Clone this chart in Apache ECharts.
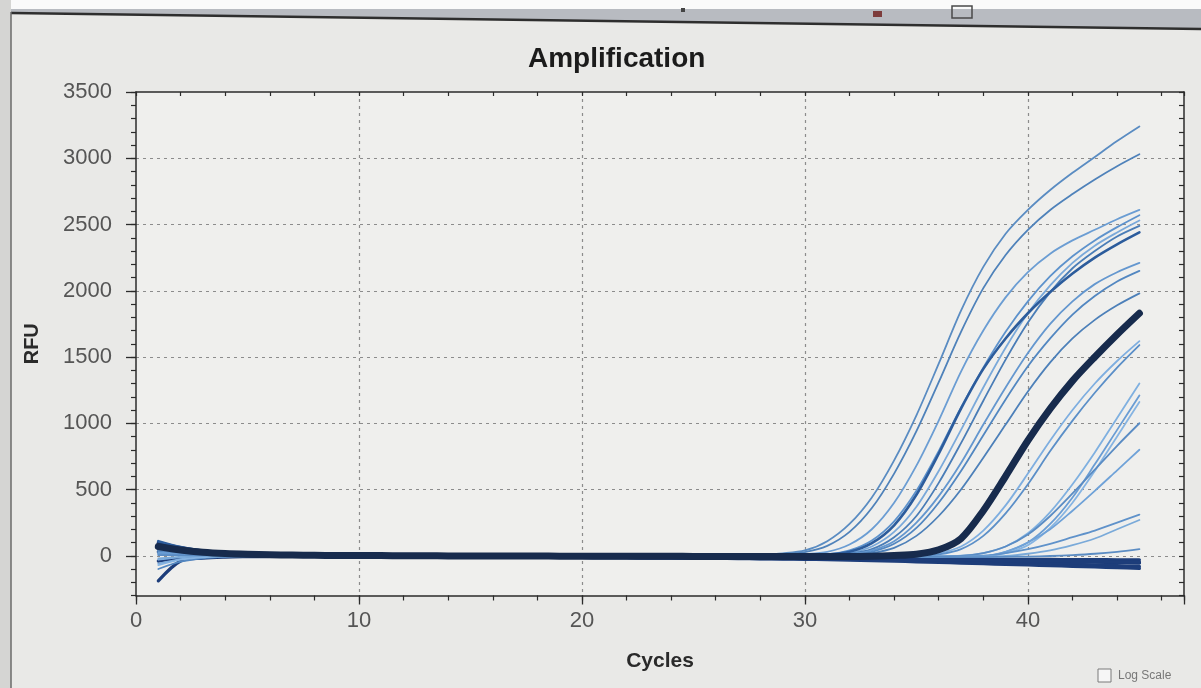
<!DOCTYPE html>
<html>
<head>
<meta charset="utf-8">
<title>Amplification</title>
<script src="https://cdn.jsdelivr.net/npm/echarts@6/dist/echarts.min.js"></script>
<style>
  html, body { margin: 0; padding: 0; background: #e8e8e6; }
  #chart { width: 1201px; height: 688px; }
</style>
</head>
<body>
<div id="chart"></div>
<script>
// Cycle numbers (x values)
const cycles = [1,2,3,4,5,6,7,8,9,10,11,12,13,14,15,16,17,18,19,20,21,22,23,24,25,26,27,28,29,30,31,32,33,34,35,36,37,38,39,40,41,42,43,44,45];

// RFU per well, cycles 1..45
const wellA = [60,38,22,14,9,6,4,3,2,2, 1,1,0,0,-1,-1,-2,-2,-2,-3, -3,-3,-2,-2,-1,0,3,8,18,40, 110,240,440,720,1060,1450,1850,2180,2430,2610, 2760,2890,3010,3130,3240];
const wellB = [45,30,18,12,8,5,4,3,2,1, 1,0,0,-1,-1,-2,-2,-3,-3,-3, -4,-4,-3,-3,-2,-1,1,5,12,28, 75,180,360,620,940,1310,1690,2020,2270,2460, 2610,2730,2840,2940,3030];
const wellC = [30,20,12,8,5,3,2,1,1,0, 0,-1,-1,-2,-2,-3,-3,-3,-4,-4, -4,-5,-5,-4,-4,-3,-2,0,4,12, 30,85,200,400,680,1020,1390,1700,1950,2140, 2280,2380,2460,2540,2610];
const wellD = [80,48,28,17,11,7,5,3,2,1, 0,0,-1,-1,-2,-2,-3,-3,-3,-4, -4,-4,-5,-5,-5,-4,-4,-3,-1,3, 10,40,115,260,490,790,1120,1420,1690,1920, 2110,2260,2380,2480,2570];
const wellE = [-60,-25,-10,-4,-1,0,1,1,1,0, 0,-1,-1,-2,-2,-2,-3,-3,-4,-4, -4,-5,-5,-5,-6,-6,-5,-5,-4,-2, 4,20,70,180,370,640,950,1270,1570,1830, 2040,2210,2340,2440,2530];
const wellF = [20,14,9,6,4,3,2,1,0,0, -1,-1,-2,-2,-3,-3,-3,-4,-4,-5, -5,-5,-6,-6,-6,-7,-7,-6,-5,-3, 2,15,50,140,300,550,850,1170,1480,1760, 1990,2170,2300,2410,2490];
const wellG = [110,65,38,22,14,9,6,4,3,2, 1,1,0,0,-1,-1,-2,-2,-2,-3, -3,-3,-4,-4,-4,-4,-3,-2,0,4, 10,30,95,230,460,770,1110,1410,1640,1830, 1990,2130,2250,2350,2440];
const wellH = [50,32,20,13,8,5,3,2,1,1, 0,0,-1,-1,-2,-2,-2,-3,-3,-3, -4,-4,-4,-5,-5,-5,-5,-4,-3,-1, 3,10,40,110,250,450,700,990,1270,1530, 1750,1920,2050,2140,2210];
const wellI = [-100,-45,-20,-9,-4,-2,-1,0,0,0, -1,-1,-1,-2,-2,-2,-3,-3,-3,-4, -4,-4,-5,-5,-5,-6,-6,-6,-5,-4, -2,6,30,90,210,400,640,910,1180,1430, 1640,1820,1960,2070,2150];
const wellJ = [35,24,15,10,6,4,3,2,1,1, 0,0,-1,-1,-1,-2,-2,-2,-3,-3, -3,-4,-4,-4,-5,-5,-5,-5,-5,-4, -3,2,20,60,150,300,500,740,990,1240, 1460,1640,1780,1890,1980];
const wellK = [70,44,27,17,11,7,5,3,2,1, 1,0,0,-1,-1,-2,-2,-2,-3,-3, -3,-4,-4,-4,-5,-5,-5,-6,-6,-6, -6,-5,-4,2,12,45,130,340,600,870, 1110,1320,1500,1670,1830];
const wellL = [-30,-12,-5,-2,0,0,1,0,0,0, -1,-1,-1,-2,-2,-3,-3,-3,-4,-4, -4,-5,-5,-5,-6,-6,-6,-6,-7,-7, -7,-6,-5,-3,5,20,70,190,380,620, 870,1100,1300,1470,1620];
const wellM = [15,10,6,4,3,2,1,1,0,0, 0,-1,-1,-1,-2,-2,-2,-3,-3,-3, -4,-4,-4,-5,-5,-5,-6,-6,-6,-7, -7,-7,-6,-5,-2,10,50,150,320,540, 790,1020,1230,1420,1590];
const wellN = [55,35,21,13,8,5,3,2,1,1, 0,0,-1,-1,-2,-2,-2,-3,-3,-3, -4,-4,-4,-5,-5,-5,-6,-6,-6,-7, -7,-7,-8,-8,-7,-5,0,20,70,170, 330,540,780,1040,1300];
const wellO = [25,16,10,7,4,3,2,1,1,0, 0,-1,-1,-1,-2,-2,-3,-3,-3,-4, -4,-4,-5,-5,-5,-6,-6,-6,-7,-7, -7,-8,-8,-8,-8,-7,-5,-2,30,100, 240,440,690,950,1210];
const wellP = [-70,-30,-12,-5,-2,-1,0,0,0,-1, -1,-1,-2,-2,-2,-3,-3,-3,-4,-4, -4,-5,-5,-5,-6,-6,-6,-7,-7,-7, -8,-8,-8,-9,-9,-8,-7,-4,20,80, 210,400,640,900,1160];
const wellQ = [40,26,16,10,6,4,3,2,1,0, 0,-1,-1,-1,-2,-2,-2,-3,-3,-3, -4,-4,-4,-5,-5,-5,-6,-6,-6,-7, -7,-7,-8,-8,-7,-5,-2,20,70,160, 300,470,650,830,1000];
const wellR = [10,7,5,3,2,1,1,0,0,0, -1,-1,-1,-2,-2,-2,-3,-3,-3,-4, -4,-4,-5,-5,-5,-6,-6,-6,-7,-7, -7,-8,-8,-8,-9,-9,-8,-6,30,100, 200,340,490,645,800];
const wellS = [65,40,24,15,9,6,4,3,2,1, 0,0,-1,-1,-2,-2,-2,-3,-3,-3, -4,-4,-4,-5,-5,-5,-6,-6,-6,-7, -7,-7,-8,-8,-8,-7,-5,0,20,50, 90,140,190,250,310];
const wellT = [-20,-8,-3,-1,0,0,0,0,-1,-1, -1,-2,-2,-2,-3,-3,-3,-4,-4,-4, -5,-5,-5,-6,-6,-6,-7,-7,-7,-8, -8,-8,-9,-9,-9,-9,-8,-6,-2,15, 40,80,130,200,270];
const wellU = [5,4,3,2,1,1,0,0,0,-1, -1,-1,-2,-2,-2,-3,-3,-3,-4,-4, -4,-5,-5,-5,-6,-6,-6,-7,-7,-7, -8,-8,-8,-9,-9,-9,-10,-10,-8,-6, -2,5,15,30,50];
// Wells without amplification
const wellV1 = [90,55,32,19,11,6,3,1,0,-1, -2,-3,-3,-5,-6,-6,-8,-9,-9,-11, -12,-12,-14,-15,-15,-17,-18,-18,-19,-20, -20,-21,-22,-23,-24,-25,-26,-27,-27,-28, -28,-29,-29,-30,-30];
const wellV2 = [-190,-40,-18,-10,-7,-5,-4,-4,-4,-5, -5,-6,-6,-7,-8,-8,-9,-10,-11,-11, -12,-13,-14,-15,-15,-16,-17,-18,-19,-20, -21,-23,-25,-27,-29,-31,-33,-35,-38,-40, -43,-46,-49,-52,-55];
const wellV3 = [100,62,38,24,15,10,7,5,3,2, 1,0,-1,-2,-2,-3,-4,-5,-5,-6, -7,-8,-9,-9,-10,-11,-12,-13,-14,-15, -16,-18,-20,-22,-24,-26,-28,-30,-33,-35, -38,-41,-44,-47,-50];
const wellV4 = [30,18,10,5,2,0,-2,-3,-4,-5, -6,-7,-8,-8,-9,-10,-11,-12,-12,-13, -14,-15,-16,-17,-18,-19,-20,-21,-22,-23, -25,-28,-31,-34,-37,-41,-45,-49,-53,-57, -61,-65,-70,-75,-80];
const wellV5 = [-40,-18,-8,-4,-2,-2,-3,-3,-4,-5, -6,-7,-7,-8,-9,-10,-10,-11,-12,-13, -14,-15,-16,-17,-19,-20,-21,-23,-25,-27, -30,-33,-37,-41,-46,-50,-55,-60,-65,-70, -75,-80,-85,-90,-95];
const wellV6 = [75,45,27,16,9,5,2,0,-1,-2, -3,-4,-5,-5,-6,-7,-8,-8,-9,-10, -11,-12,-12,-13,-14,-15,-16,-17,-18,-19, -20,-22,-24,-26,-28,-30,-32,-34,-36,-38, -40,-42,-44,-46,-48];

// Axis ranges
const X_MIN = 0, X_MAX = 47;
const Y_MIN = -300, Y_MAX = 3500;

// Drawing styles per well
const flatStyle = { color: '#1d3d7a', width: 3.2, z: 2 };
const wells = [
  { name: 'V1', values: wellV1, style: flatStyle },
  { name: 'V2', values: wellV2, style: flatStyle },
  { name: 'V3', values: wellV3, style: flatStyle },
  { name: 'V4', values: wellV4, style: flatStyle },
  { name: 'V5', values: wellV5, style: flatStyle },
  { name: 'V6', values: wellV6, style: flatStyle },
  { name: 'A', values: wellA, style: { color: '#5a8cc2', width: 1.8, z: 3 } },
  { name: 'B', values: wellB, style: { color: '#4f82ba', width: 1.8, z: 3 } },
  { name: 'C', values: wellC, style: { color: '#6b9dd3', width: 1.8, z: 3 } },
  { name: 'D', values: wellD, style: { color: '#5d92cc', width: 1.8, z: 3 } },
  { name: 'E', values: wellE, style: { color: '#7aa9da', width: 1.8, z: 3 } },
  { name: 'F', values: wellF, style: { color: '#4a7db7', width: 1.8, z: 3 } },
  { name: 'H', values: wellH, style: { color: '#6497cf', width: 1.8, z: 3 } },
  { name: 'I', values: wellI, style: { color: '#5287c1', width: 1.8, z: 3 } },
  { name: 'J', values: wellJ, style: { color: '#4d80b9', width: 1.8, z: 3 } },
  { name: 'L', values: wellL, style: { color: '#7eaee0', width: 1.8, z: 3 } },
  { name: 'M', values: wellM, style: { color: '#5b8fc8', width: 1.8, z: 3 } },
  { name: 'N', values: wellN, style: { color: '#7fb0e0', width: 1.8, z: 3 } },
  { name: 'O', values: wellO, style: { color: '#6a9dd4', width: 1.8, z: 3 } },
  { name: 'P', values: wellP, style: { color: '#86b4e2', width: 1.8, z: 3 } },
  { name: 'Q', values: wellQ, style: { color: '#5a8cc4', width: 1.8, z: 3 } },
  { name: 'R', values: wellR, style: { color: '#6fa2d8', width: 1.8, z: 3 } },
  { name: 'S', values: wellS, style: { color: '#5f92ca', width: 1.8, z: 3 } },
  { name: 'T', values: wellT, style: { color: '#7aaad9', width: 1.8, z: 3 } },
  { name: 'U', values: wellU, style: { color: '#5b8cc3', width: 1.8, z: 3 } },
  { name: 'G', values: wellG, style: { color: '#2c5c9c', width: 2.6, z: 4 } },
  { name: 'K', values: wellK, style: { color: '#172b4d', width: 7, z: 5 } }
];

// Layout: both grids share the same pixel scale so the labelled 0..3500 axis lines up
const GRID_LEFT = 136, GRID_RIGHT = 17, GRID_TOP = 92;
const PX_PER_RFU = 0.1325;
const plotHeight = (Y_MAX - Y_MIN) * PX_PER_RFU;
const labelHeight = (Y_MAX - 0) * PX_PER_RFU;

const AXIS_COLOR = '#2b2b2b';
const LABEL_COLOR = '#555555';
const GRID_LINE = { type: [3, 4], color: '#8c8c8c', width: 1.2 };
const FONT = '"Liberation Sans", Arial, Helvetica, sans-serif';

const chart = echarts.init(document.getElementById('chart'), null, { renderer: 'canvas' });

const series = wells.map(w => ({
  name: w.name,
  type: 'line',
  xAxisIndex: 0,
  yAxisIndex: 0,
  data: cycles.map((c, i) => [c, w.values[i]]),
  showSymbol: false,
  smooth: 0.3,
  z: w.style.z,
  lineStyle: { color: w.style.color, width: w.style.width, cap: 'round', join: 'round' },
  itemStyle: { color: w.style.color },
  emphasis: { disabled: true },
  animation: false
}));

const option = {
  backgroundColor: '#e9e9e7',
  animation: false,
  title: {
    text: 'Amplification',
    left: 523,
    top: 40,
    textStyle: { fontFamily: FONT, fontSize: 28, fontWeight: 'bold', color: '#1b1b1b' }
  },
  grid: [
    { left: GRID_LEFT, right: GRID_RIGHT, top: GRID_TOP, height: plotHeight,
      show: true, backgroundColor: '#efefed', borderWidth: 0 },
    { left: GRID_LEFT, right: GRID_RIGHT, top: GRID_TOP, height: labelHeight, show: false }
  ],
  xAxis: [
    { // minor ticks + axis line, every 2 cycles
      gridIndex: 0, type: 'value', position: 'bottom', min: X_MIN, max: X_MAX, interval: 2,
      axisLine: { show: true, onZero: false, lineStyle: { color: AXIS_COLOR, width: 1.5 } },
      axisTick: { show: true, length: 5, lineStyle: { color: AXIS_COLOR, width: 1.2 } },
      axisLabel: { show: false }, splitLine: { show: false }
    },
    { // major ticks, labels and vertical grid lines every 10 cycles
      gridIndex: 0, type: 'value', position: 'bottom', min: X_MIN, max: X_MAX, interval: 10,
      name: 'Cycles', nameLocation: 'middle', nameGap: 55,
      nameTextStyle: { fontFamily: FONT, fontSize: 21, fontWeight: 'bold', color: '#2a2a2a' },
      axisLine: { show: false, onZero: false },
      axisTick: { show: true, length: 9, lineStyle: { color: AXIS_COLOR, width: 1.3 } },
      axisLabel: { show: true, margin: 14, fontFamily: FONT, fontSize: 22, color: LABEL_COLOR,
        formatter: v => (v % 10 === 0 ? String(v) : '') },
      splitLine: { show: true, showMinLine: false, showMaxLine: false, lineStyle: GRID_LINE }
    },
    { // top frame
      gridIndex: 0, type: 'value', position: 'top', min: X_MIN, max: X_MAX, interval: 2,
      axisLine: { show: true, onZero: false, lineStyle: { color: AXIS_COLOR, width: 1.5 } },
      axisTick: { show: true, inside: true, length: 4, lineStyle: { color: AXIS_COLOR, width: 1.2 } },
      axisLabel: { show: false }, splitLine: { show: false }
    },
    { gridIndex: 1, type: 'value', min: X_MIN, max: X_MAX, show: false }
  ],
  yAxis: [
    { // minor ticks every 100 RFU + axis line
      gridIndex: 0, type: 'value', position: 'left', min: Y_MIN, max: Y_MAX, interval: 100,
      name: 'RFU', nameLocation: 'middle', nameGap: 94,
      nameTextStyle: { fontFamily: FONT, fontSize: 20, fontWeight: 'bold', color: '#2a2a2a' },
      axisLine: { show: true, onZero: false, lineStyle: { color: AXIS_COLOR, width: 1.5 } },
      axisTick: { show: true, length: 5, lineStyle: { color: AXIS_COLOR, width: 1.2 } },
      axisLabel: { show: false }, splitLine: { show: false }
    },
    { // right frame
      gridIndex: 0, type: 'value', position: 'right', min: Y_MIN, max: Y_MAX, interval: 100,
      axisLine: { show: true, onZero: false, lineStyle: { color: AXIS_COLOR, width: 1.5 } },
      axisTick: { show: true, inside: true, length: 5, lineStyle: { color: AXIS_COLOR, width: 1.2 } },
      axisLabel: { show: false }, splitLine: { show: false }
    },
    { // labels, major ticks and horizontal grid lines every 500 RFU
      gridIndex: 1, type: 'value', position: 'left', min: 0, max: Y_MAX, interval: 500,
      axisLine: { show: false },
      axisTick: { show: true, length: 10, lineStyle: { color: AXIS_COLOR, width: 1.3 } },
      axisLabel: { show: true, margin: 24, fontFamily: FONT, fontSize: 22, color: LABEL_COLOR,
        formatter: v => String(v) },
      splitLine: { show: true, showMinLine: true, showMaxLine: false, lineStyle: GRID_LINE }
    }
  ],
  graphic: [
    { type: 'rect', silent: true, shape: { x: 0, y: 0, width: 1201, height: 9 }, style: { fill: '#fafafa' } },
    { type: 'polygon', silent: true, shape: { points: [[11, 9], [1201, 9], [1201, 29], [11, 13]] },
      style: { fill: '#b8bbc1' } },
    { type: 'line', silent: true, shape: { x1: 11, y1: 13, x2: 1201, y2: 29 },
      style: { stroke: '#2e2e2e', lineWidth: 2.5 } },
    { type: 'rect', silent: true, shape: { x: 952, y: 6, width: 20, height: 12 },
      style: { fill: 'none', stroke: '#4a4a4a', lineWidth: 1.5 } },
    { type: 'rect', silent: true, shape: { x: 873, y: 11, width: 9, height: 6 }, style: { fill: '#7d3c3c' } },
    { type: 'rect', silent: true, shape: { x: 681, y: 8, width: 4, height: 4 }, style: { fill: '#444' } },
    { type: 'rect', silent: true, shape: { x: 0, y: 0, width: 11, height: 688 }, style: { fill: '#d5d5d3' } },
    { type: 'line', silent: true, shape: { x1: 11, y1: 12, x2: 11, y2: 688 },
      style: { stroke: '#6a6a6a', lineWidth: 1.5 } },
    { type: 'rect', silent: true, shape: { x: 1098, y: 669, width: 13, height: 13 },
      style: { fill: '#f6f6f6', stroke: '#7a7a7a', lineWidth: 1 } },
    { type: 'text', silent: true, x: 1118, y: 676,
      style: { text: 'Log Scale', fill: '#777777', fontSize: 12, fontFamily: FONT, verticalAlign: 'middle' } }
  ],
  series: series
};

chart.setOption(option);
</script>
</body>
</html>
